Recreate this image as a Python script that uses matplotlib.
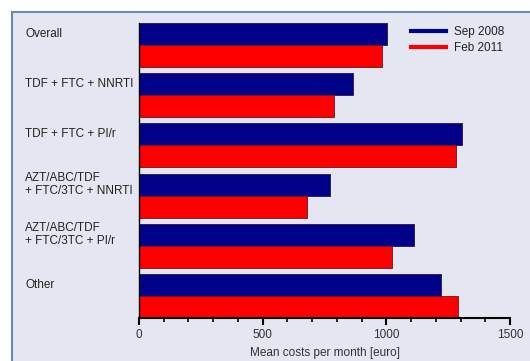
import matplotlib
matplotlib.use("Agg")
import matplotlib.pyplot as plt
from matplotlib.patches import Rectangle
from matplotlib.lines import Line2D
import numpy as np

categories = ["Overall",
              "TDF + FTC + NNRTI",
              "TDF + FTC + PI/r",
              "AZT/ABC/TDF\n+ FTC/3TC + NNRTI",
              "AZT/ABC/TDF\n+ FTC/3TC + PI/r",
              "Other"]
sep_2008 = [1003, 866, 1306, 774, 1110, 1222]
feb_2011 = [984, 790, 1281, 679, 1021, 1288]
series_names = ["Sep 2008", "Feb 2011"]
xticks = [0, 500, 1000, 1500]

NAVY = "#000088"
RED = "#ff0000"
BG = "#e4e6f2"

plt.rcParams["font.family"] = ["Liberation Sans", "DejaVu Sans"]
plt.rcParams["font.size"] = 8.5

fig = plt.figure(figsize=(5.30, 3.61), dpi=100, facecolor="white")
# outer panel frame, behind everything
fig.patches.append(Rectangle((11.5 / 530, -0.1), 1.2, 1 - 11.5 / 361 + 0.1,
                             transform=fig.transFigure, facecolor=BG,
                             edgecolor="#7088b0", lw=1.5, zorder=-10))

ax = fig.add_axes([139 / 530, 1 - 318 / 361, (510 - 139) / 530, (318 - 23) / 361])
ax.set_zorder(5)
ax.patch.set_visible(False)

y = np.arange(len(categories))
h = 0.44
ax.barh(y - h / 2, sep_2008, height=h, color=NAVY, edgecolor="#30104a", lw=0.6)
ax.barh(y + h / 2, feb_2011, height=h, color=RED, edgecolor="#701020", lw=0.6)

ax.set_xlim(0, 1500)
ax.set_ylim(len(categories) - 1 + h, -h)

for s in ["top", "right"]:
    ax.spines[s].set_visible(False)
ax.spines["bottom"].set_linewidth(1.5)
ax.spines["left"].set_linewidth(1.0)

ax.set_xticks(xticks)
ax.set_xticks(np.arange(0, 1501, 100), minor=True)
ax.tick_params(axis="x", which="major", length=5, width=1.5, colors="black",
               labelcolor="#333333", pad=3)
ax.tick_params(axis="x", which="minor", length=3, width=1.2, colors="black")
ax.set_yticks([])
ax.set_xlabel("Mean costs per month [euro]", color="#333333", labelpad=4)

# category labels, left aligned in the panel
trans = matplotlib.transforms.blended_transform_factory(fig.transFigure, ax.transData)
for yi, lab in zip(y, categories):
    ax.text(25 / 530, yi - h / 2, lab, transform=trans, ha="left", va="center",
            color="#222222", linespacing=1.15, clip_on=False)

handles = [Line2D([], [], color=NAVY, lw=3), Line2D([], [], color=RED, lw=3)]
ax.legend(handles, series_names, loc="upper left",
          bbox_to_anchor=(411 / 530, 1 - 26 / 361), bbox_transform=fig.transFigure,
          frameon=False, handlelength=3.0, handletextpad=0.6, labelspacing=0.35,
          borderaxespad=0, borderpad=0, labelcolor="#222222")

fig.savefig("out.png", dpi=100, facecolor="white")
